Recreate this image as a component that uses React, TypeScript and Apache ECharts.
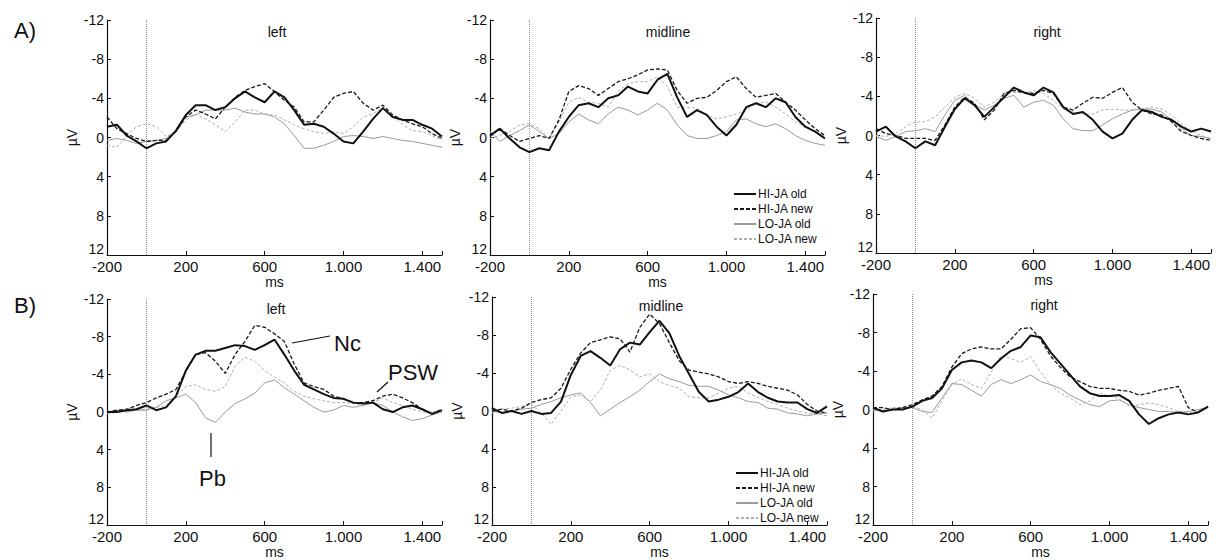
import React, { useEffect, useRef } from "react";
import * as echarts from "echarts";

// time axis (ms), one sample every 50 ms
const TIMES = [-200, -150, -100, -50, 0, 50, 100, 150, 200, 250, 300, 350, 400, 450, 500, 550, 600, 650, 700, 750, 800, 850, 900, 950, 1000, 1050, 1100, 1150, 1200, 1250, 1300, 1350, 1400, 1450, 1500];
const NAMES = ["HI-JA old", "HI-JA new", "LO-JA old", "LO-JA new"];
const Y_TICKS = [-12, -8, -4, 0, 4, 8, 12];
const PANEL_TITLES = ["left", "midline", "right"];

// A) values in µV
const A_LEFT_HI_OLD = [-1.1, -1.3, -0.2, 0.4, 1.1, 0.6, 0.4, -0.7, -2.3, -3.3, -3.3, -2.8, -3.1, -4.0, -4.7, -4.1, -3.6, -4.7, -4.1, -2.8, -1.3, -1.4, -1.1, -0.4, 0.4, 0.6, -0.6, -1.9, -3.0, -2.1, -1.8, -1.8, -1.3, -0.9, -0.1];
const A_LEFT_HI_NEW = [-2.1, -0.9, -0.4, 0.1, 0.4, 0.3, 0.3, -0.6, -2.1, -2.8, -2.4, -1.9, -3.1, -4.1, -4.8, -5.2, -5.5, -4.7, -3.8, -3.1, -1.6, -1.6, -2.8, -4.1, -4.5, -4.7, -3.5, -2.8, -3.3, -2.3, -1.8, -1.4, -1.1, -0.4, 0.1];
const A_LEFT_LO_OLD = [0.3, 0.1, 0.3, 0.6, 0.4, 0.3, 0.1, -0.7, -2.1, -2.3, -2.8, -2.8, -2.8, -3.0, -2.6, -2.4, -2.4, -2.1, -1.4, -0.2, 1.1, 1.1, 0.8, 0.4, -0.1, -0.2, -0.1, 0.1, -0.1, 0.1, 0.3, 0.4, 0.6, 0.8, 1.0];
const A_LEFT_LO_NEW = [0.8, 1.0, -0.2, -1.1, -1.4, -1.1, -0.1, -0.6, -1.8, -2.4, -1.9, -1.3, -0.6, -1.6, -2.8, -2.8, -2.4, -2.3, -1.8, -1.3, -0.9, -0.6, -0.4, -0.6, -0.4, -1.1, -2.1, -2.4, -3.1, -2.3, -1.3, -0.7, -0.6, -0.2, 0.3];

const A_MID_HI_OLD = [-0.2, -0.9, 0.1, 1.0, 1.5, 1.1, 1.3, -0.6, -2.1, -3.3, -3.5, -3.1, -4.0, -4.3, -5.2, -4.7, -4.5, -5.9, -6.5, -4.1, -2.1, -2.8, -2.3, -1.1, -0.2, -1.3, -3.1, -3.5, -3.1, -4.0, -3.6, -2.1, -1.1, -0.6, 0.1];
const A_MID_HI_NEW = [-0.1, -0.9, -0.2, 0.4, 0.1, -0.2, 0.1, -1.8, -4.7, -5.3, -5.0, -4.3, -5.0, -5.7, -6.0, -6.4, -6.9, -7.0, -6.9, -4.8, -3.5, -4.0, -4.1, -4.8, -5.7, -6.2, -5.0, -4.1, -4.3, -4.5, -3.6, -2.8, -1.8, -0.9, -0.2];
const A_MID_LO_OLD = [-0.6, 0.4, -0.2, -0.7, -1.3, -0.6, 0.1, -0.4, -1.6, -2.4, -1.8, -1.4, -2.4, -3.1, -2.8, -2.3, -2.8, -3.5, -2.8, -1.3, -0.2, 0.1, 0.1, -0.2, -0.6, -1.8, -1.9, -1.4, -1.1, -1.4, -0.9, -0.2, 0.3, 0.6, 0.8];
const A_MID_LO_NEW = [0.1, -0.2, -0.6, -1.3, -1.4, -0.9, 0.1, -1.6, -3.6, -4.1, -3.6, -3.5, -3.1, -4.7, -5.5, -5.7, -5.7, -6.2, -5.2, -3.1, -3.1, -3.0, -2.3, -1.9, -2.1, -2.4, -2.8, -3.5, -3.6, -3.1, -2.4, -1.6, -1.1, -0.6, -0.1];

const A_RIGHT_HI_OLD = [-0.4, -0.9, 0.1, 0.6, 1.3, 0.6, 1.0, -0.9, -2.7, -3.8, -3.1, -1.9, -2.9, -3.9, -4.9, -4.4, -4.1, -4.9, -4.4, -2.9, -2.2, -2.4, -1.6, -0.4, 0.3, -0.2, -1.6, -2.6, -2.4, -1.9, -1.6, -0.9, -0.4, -0.7, -0.4];
const A_RIGHT_HI_NEW = [-0.7, -0.2, 0.0, 0.3, 0.3, 0.3, 0.5, -1.1, -2.9, -3.9, -3.3, -1.6, -2.6, -4.3, -4.6, -4.4, -4.3, -4.6, -4.3, -2.9, -2.6, -3.3, -3.9, -3.8, -4.4, -4.9, -3.4, -2.6, -2.2, -2.1, -1.4, -0.4, 0.0, 0.3, 0.5];
const A_RIGHT_LO_OLD = [0.1, 0.5, 0.1, -0.4, -0.5, -0.7, -0.4, -2.1, -3.6, -4.1, -3.1, -2.6, -3.1, -3.8, -4.1, -2.9, -3.4, -3.6, -3.1, -1.7, -0.7, -0.5, -0.5, -1.1, -1.7, -2.2, -2.6, -2.7, -2.7, -2.4, -1.6, -0.7, 0.0, 0.1, 0.3];
const A_RIGHT_LO_NEW = [0.0, 0.1, -0.2, -0.9, -1.4, -1.4, -1.9, -2.9, -3.9, -4.3, -3.8, -2.9, -3.4, -4.3, -4.4, -4.4, -4.6, -4.3, -3.6, -2.7, -2.4, -2.2, -2.2, -2.6, -2.7, -2.6, -2.6, -2.7, -2.9, -2.7, -2.1, -1.2, -0.5, 0.0, 0.3];

// B) values in µV
const B_LEFT_HI_OLD = [0.0, 0.0, -0.2, -0.3, -0.7, -0.2, -0.5, -1.7, -4.4, -6.1, -6.5, -6.5, -6.8, -7.1, -7.0, -6.6, -7.1, -7.7, -6.1, -4.4, -2.9, -2.4, -1.9, -1.5, -1.4, -1.0, -0.9, -1.0, -0.3, 0.0, -0.5, -0.7, -0.3, 0.2, -0.2];
const B_LEFT_HI_NEW = [0.0, -0.2, -0.3, -0.7, -1.0, -1.5, -1.9, -2.4, -4.3, -6.1, -6.3, -5.4, -4.1, -6.1, -7.5, -9.2, -9.0, -8.3, -7.5, -5.1, -3.1, -2.7, -2.4, -1.7, -1.4, -1.0, -1.0, -1.2, -1.7, -1.9, -1.5, -1.0, -0.3, 0.2, -0.3];
const B_LEFT_LO_OLD = [0.0, -0.2, 0.0, -0.2, -0.2, -0.5, -1.2, -1.5, -1.9, -1.0, 0.6, 1.1, 0.0, -0.9, -1.4, -2.0, -3.1, -3.4, -2.6, -1.9, -1.2, -0.5, 0.0, -0.2, -0.7, -0.5, -0.7, -1.0, -0.7, 0.0, 0.5, 0.9, 0.7, 0.3, 0.0];
const B_LEFT_LO_NEW = [0.2, 0.0, -0.2, -0.2, -0.3, -0.5, -0.7, -1.7, -2.7, -2.9, -2.4, -2.2, -2.7, -4.9, -5.8, -5.4, -4.4, -3.7, -3.1, -2.2, -1.7, -1.4, -1.2, -1.0, -1.0, -0.9, -0.7, -1.0, -1.5, -1.0, -0.7, -0.3, 0.0, 0.0, -0.2];

const B_MID_HI_OLD = [-0.3, 0.2, 0.0, 0.3, 0.0, 0.3, 0.2, -1.0, -3.8, -5.8, -6.3, -5.6, -4.8, -6.5, -7.2, -7.0, -8.3, -9.5, -8.2, -5.8, -3.9, -2.0, -1.0, -1.2, -1.5, -2.0, -2.9, -2.0, -1.4, -1.0, -0.9, -0.9, -0.2, 0.2, -0.5];
const B_MID_HI_NEW = [0.0, -0.2, 0.0, -0.3, -0.9, -1.2, -1.4, -2.4, -4.4, -6.1, -7.2, -7.5, -7.8, -7.6, -6.2, -8.8, -10.2, -9.2, -7.2, -5.3, -4.3, -4.1, -3.9, -3.6, -3.1, -2.9, -3.1, -2.9, -2.6, -2.4, -2.2, -1.7, -0.7, 0.0, 0.2];
const B_MID_LO_OLD = [0.0, 0.2, 0.0, -0.2, -0.3, -0.7, -1.0, -1.4, -1.7, -1.9, -0.9, 0.5, -0.2, -0.9, -1.5, -2.2, -3.1, -3.9, -3.4, -3.1, -2.7, -2.6, -2.6, -2.2, -1.7, -1.4, -1.0, -0.9, -0.3, -0.2, 0.2, 0.3, 0.5, 0.3, 0.2];
const B_MID_LO_NEW = [0.2, -0.2, -0.3, -0.5, -0.7, 0.2, 1.4, 0.0, -1.5, -1.7, -1.0, -2.2, -4.3, -4.8, -4.3, -3.6, -3.9, -3.1, -2.7, -2.4, -1.5, -1.4, -1.4, -1.9, -2.4, -2.6, -1.9, -1.4, -1.0, -0.7, -0.3, 0.0, 0.2, 0.3, 0.5];

const B_RIGHT_HI_OLD = [-0.2, 0.2, 0.0, 0.0, -0.3, -0.9, -1.2, -2.2, -4.1, -4.9, -5.1, -4.9, -4.3, -5.3, -6.1, -6.5, -7.7, -7.5, -6.0, -4.8, -3.6, -2.4, -1.7, -1.4, -1.4, -1.5, -0.9, 0.5, 1.5, 0.9, 0.5, 0.3, 0.5, 0.3, -0.3];
const B_RIGHT_HI_NEW = [-0.2, -0.2, 0.0, -0.2, -0.5, -1.0, -1.4, -2.4, -4.4, -5.8, -6.3, -6.5, -6.3, -6.3, -7.3, -8.4, -8.5, -7.3, -5.6, -4.4, -3.4, -2.9, -2.4, -2.2, -2.2, -2.0, -1.9, -1.5, -1.7, -2.0, -2.2, -2.4, -0.2, 0.3, -0.3];
const B_RIGHT_LO_OLD = [0.0, 0.2, 0.0, -0.2, -0.2, 0.2, 0.3, -1.2, -2.7, -2.6, -2.0, -1.4, -2.6, -3.1, -2.7, -3.1, -3.6, -2.9, -2.6, -2.2, -1.5, -1.0, -0.5, -0.3, -0.9, -1.0, -0.5, -0.2, 0.0, 0.2, 0.2, 0.3, 0.2, 0.0, -0.2];
const B_RIGHT_LO_NEW = [0.2, 0.0, -0.2, -0.2, -0.3, 0.0, 0.9, -0.9, -2.6, -3.2, -2.6, -2.2, -3.9, -5.6, -5.3, -4.9, -5.5, -3.9, -2.6, -1.7, -1.2, -0.5, -0.9, -1.7, -1.4, -1.2, -0.3, -0.5, -0.7, -0.5, -0.2, 0.2, 0.3, 0.2, -0.2];

const PANELS = [
  [A_LEFT_HI_OLD, A_LEFT_HI_NEW, A_LEFT_LO_OLD, A_LEFT_LO_NEW],
  [A_MID_HI_OLD, A_MID_HI_NEW, A_MID_LO_OLD, A_MID_LO_NEW],
  [A_RIGHT_HI_OLD, A_RIGHT_HI_NEW, A_RIGHT_LO_OLD, A_RIGHT_LO_NEW],
  [B_LEFT_HI_OLD, B_LEFT_HI_NEW, B_LEFT_LO_OLD, B_LEFT_LO_NEW],
  [B_MID_HI_OLD, B_MID_HI_NEW, B_MID_LO_OLD, B_MID_LO_NEW],
  [B_RIGHT_HI_OLD, B_RIGHT_HI_NEW, B_RIGHT_LO_OLD, B_RIGHT_LO_NEW],
];

const FONT = "'Liberation Sans', Arial, Helvetica, sans-serif";

const GRIDS = [
  { left: 107, top: 20, width: 335, height: 235 },
  { left: 490, top: 20, width: 335, height: 235 },
  { left: 876, top: 18, width: 335, height: 235 },
  { left: 107, top: 299, width: 335, height: 235 },
  { left: 492, top: 297, width: 335, height: 235 },
  { left: 873, top: 294, width: 335, height: 235 },
];

const TITLE_POS = [
  [277, 32], [668, 32], [1047, 32],
  [276, 309], [661, 306], [1044, 305],
];

const LINE_STYLES = [
  { color: "#111111", width: 2, type: "solid" },
  { color: "#1a1a1a", width: 1.3, type: [4, 2] },
  { color: "#9a9a9a", width: 1, type: "solid" },
  { color: "#b0b0b0", width: 1, type: [3, 2] },
];

function fmtX(v: number): string {
  if (Math.abs(v) >= 1000) {
    const s = String(Math.abs(v));
    return (v < 0 ? "-" : "") + s.slice(0, s.length - 3) + "." + s.slice(s.length - 3);
  }
  return String(v);
}

export default function App() {
  const ref = useRef<HTMLDivElement>(null);
  useEffect(() => {
    document.body.style.margin = "0";
    const chart = echarts.init(ref.current!, null, { renderer: "svg" });

    const grid = GRIDS.map((g) => ({ ...g, containLabel: false }));
    const xAxis = GRIDS.map((_, i) => ({
      type: "value",
      gridIndex: i,
      min: -200,
      max: 1500,
      interval: 400,
      name: "ms",
      nameLocation: "middle",
      nameGap: 16,
      nameTextStyle: { fontSize: 14, color: "#111", fontFamily: FONT },
      axisLine: { show: true, onZero: false, lineStyle: { color: "#111", width: 1.2 } },
      axisTick: { show: true, inside: true, length: 4, lineStyle: { color: "#111" } },
      axisLabel: {
        fontSize: 15,
        color: "#111",
        fontFamily: FONT,
        margin: 4,
        formatter: (v: number) => (v > 1400 ? "" : fmtX(v)),
      },
      splitLine: { show: false },
    }));
    const yAxis = GRIDS.map((_, i) => ({
      type: "value",
      gridIndex: i,
      inverse: true,
      min: Y_TICKS[0],
      max: Y_TICKS[Y_TICKS.length - 1],
      interval: 4,
      name: "µV",
      nameLocation: "middle",
      nameGap: 28,
      nameTextStyle: { fontSize: 14, color: "#111", fontFamily: FONT },
      axisLine: { show: true, onZero: false, lineStyle: { color: "#111", width: 1.2 } },
      axisTick: { show: true, inside: true, length: 4, lineStyle: { color: "#111" } },
      axisLabel: {
        fontSize: 14,
        color: "#111",
        fontFamily: FONT,
        margin: 3,
        formatter: (v: number) => (v === Y_TICKS[Y_TICKS.length - 1] ? "{up|" + v + "}" : String(v)),
        rich: { up: { fontSize: 14, color: "#111", fontFamily: FONT, padding: [0, 0, 12, 0] } },
      },
      splitLine: { show: false },
    }));

    const series: any[] = [];
    PANELS.forEach((panel, p) => {
      panel.forEach((vals, k) => {
        const s: any = {
          type: "line",
          name: NAMES[k],
          xAxisIndex: p,
          yAxisIndex: p,
          data: TIMES.map((t, j) => [t, vals[j]]),
          showSymbol: false,
          symbol: "none",
          lineStyle: LINE_STYLES[k],
          itemStyle: { color: LINE_STYLES[k].color },
          z: 10 - k,
          silent: true,
        };
        if (k === 0) {
          s.markLine = {
            silent: true,
            symbol: ["none", "none"],
            label: { show: false },
            lineStyle: { type: "dotted", color: "#8a8a8a", width: 1 },
            data: [{ xAxis: 0 }],
          };
        }
        series.push(s);
      });
    });

    const legendBase = {
      orient: "vertical",
      selectedMode: false,
      itemWidth: 22,
      itemHeight: 10,
      itemGap: 3,
      data: NAMES,
      itemStyle: { opacity: 0 },
      textStyle: { fontSize: 12, color: "#111", fontFamily: FONT, padding: [0, 0, 0, -3] },
    };

    const graphic: any[] = [];
    TITLE_POS.forEach(([x, y], i) => {
      graphic.push({
        type: "text",
        x,
        y,
        style: {
          text: PANEL_TITLES[i % 3],
          fontSize: 14,
          fontFamily: FONT,
          fill: "#111",
          align: "center",
          verticalAlign: "middle",
        },
      });
    });
    const big = (text: string, x: number, y: number) => ({
      type: "text",
      x,
      y,
      style: { text, fontSize: 22, fontFamily: FONT, fill: "#111", align: "left", verticalAlign: "middle" },
    });
    graphic.push(big("A)", 14, 30));
    graphic.push(big("B)", 14, 305));
    graphic.push(big("Nc", 334, 343));
    graphic.push(big("PSW", 388, 372));
    graphic.push(big("Pb", 199, 478));
    graphic.push({ type: "line", shape: { x1: 292, y1: 343, x2: 330, y2: 336 }, style: { stroke: "#111", lineWidth: 1.2 } });
    graphic.push({ type: "line", shape: { x1: 377, y1: 392, x2: 388, y2: 382 }, style: { stroke: "#111", lineWidth: 1.2 } });
    graphic.push({ type: "line", shape: { x1: 211, y1: 433, x2: 211, y2: 457 }, style: { stroke: "#111", lineWidth: 1.2 } });

    chart.setOption({
      animation: false,
      backgroundColor: "#ffffff",
      grid,
      xAxis,
      yAxis,
      series,
      legend: [
        { ...legendBase, left: 728, top: 183 },
        { ...legendBase, left: 730, top: 462 },
      ],
      graphic,
    });
    return () => chart.dispose();
  }, []);
  return <div ref={ref} style={{ width: 1220, height: 560 }} />;
}
